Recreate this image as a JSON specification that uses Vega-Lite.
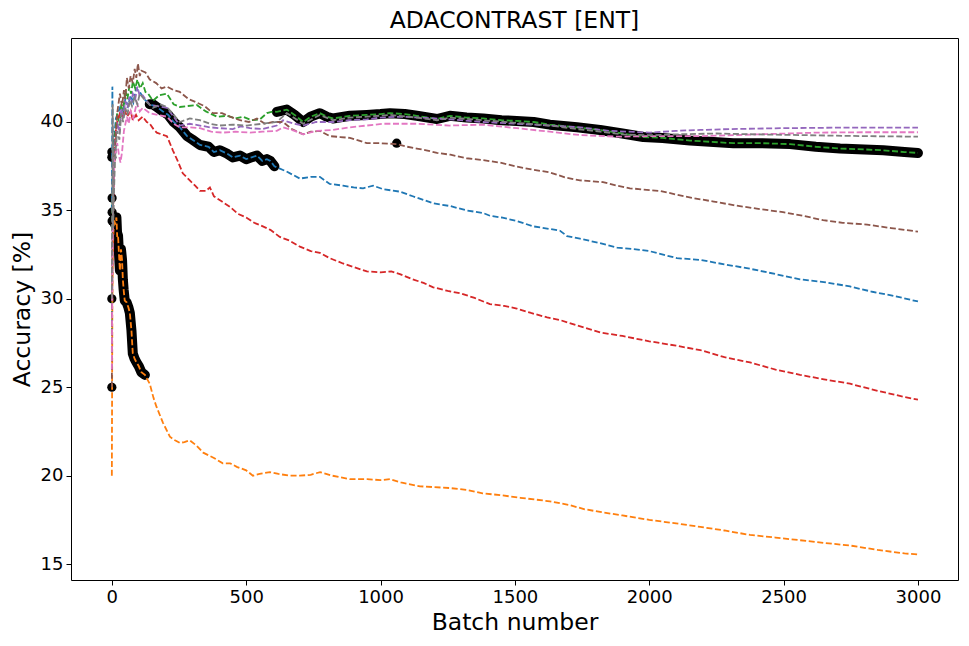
{
  "$schema": "https://vega.github.io/schema/vega-lite/v6.json",
  "autosize": {"type": "none"},
  "width": 887,
  "height": 542,
  "padding": {"left": 71, "top": 38, "right": 11, "bottom": 66},
  "background": "white",
  "title": {
    "text": "ADACONTRAST [ENT]",
    "font": "DejaVu Sans",
    "fontSize": 23.5,
    "fontWeight": "normal",
    "color": "black",
    "anchor": "middle",
    "offset": 6
  },
  "datasets": {
    "runs": [
      {"run":"C0","batch":0,"acc":35},{"run":"C0","batch":2,"acc":42},{"run":"C0","batch":4,"acc":38},{"run":"C0","batch":8,"acc":39},{"run":"C0","batch":15,"acc":40.2},{"run":"C0","batch":30,"acc":40.8},{"run":"C0","batch":40,"acc":40.3},{"run":"C0","batch":50,"acc":41.3},{"run":"C0","batch":60,"acc":40.9},{"run":"C0","batch":70,"acc":41.5},{"run":"C0","batch":80,"acc":41.1},{"run":"C0","batch":90,"acc":41.9},{"run":"C0","batch":104,"acc":41.7},{"run":"C0","batch":120,"acc":41.3},{"run":"C0","batch":141,"acc":41.0},{"run":"C0","batch":167,"acc":40.85},{"run":"C0","batch":190,"acc":40.6},{"run":"C0","batch":210,"acc":40.4},{"run":"C0","batch":230,"acc":40.0},{"run":"C0","batch":253,"acc":39.7},{"run":"C0","batch":280,"acc":39.2},{"run":"C0","batch":300,"acc":39.0},{"run":"C0","batch":328,"acc":38.7},{"run":"C0","batch":360,"acc":38.6},{"run":"C0","batch":380,"acc":38.3},{"run":"C0","batch":402,"acc":38.4},{"run":"C0","batch":430,"acc":38.2},{"run":"C0","batch":450,"acc":38.0},{"run":"C0","batch":477,"acc":38.1},{"run":"C0","batch":500,"acc":37.9},{"run":"C0","batch":520,"acc":38.0},{"run":"C0","batch":540,"acc":38.1},{"run":"C0","batch":560,"acc":37.8},{"run":"C0","batch":577,"acc":37.9},{"run":"C0","batch":590,"acc":37.8},{"run":"C0","batch":605,"acc":37.5},{"run":"C0","batch":650,"acc":37.2},{"run":"C0","batch":700,"acc":36.8},{"run":"C0","batch":740,"acc":36.9},{"run":"C0","batch":774,"acc":36.9},{"run":"C0","batch":811,"acc":36.5},{"run":"C0","batch":860,"acc":36.4},{"run":"C0","batch":900,"acc":36.3},{"run":"C0","batch":935,"acc":36.25},{"run":"C0","batch":972,"acc":36.4},{"run":"C0","batch":1010,"acc":36.2},{"run":"C0","batch":1072,"acc":36.06},{"run":"C0","batch":1120,"acc":35.8},{"run":"C0","batch":1159,"acc":35.6},{"run":"C0","batch":1196,"acc":35.4},{"run":"C0","batch":1258,"acc":35.25},{"run":"C0","batch":1320,"acc":35.0},{"run":"C0","batch":1382,"acc":34.85},{"run":"C0","batch":1407,"acc":34.7},{"run":"C0","batch":1450,"acc":34.6},{"run":"C0","batch":1507,"acc":34.4},{"run":"C0","batch":1568,"acc":34.1},{"run":"C0","batch":1630,"acc":33.95},{"run":"C0","batch":1668,"acc":33.85},{"run":"C0","batch":1694,"acc":33.55},{"run":"C0","batch":1742,"acc":33.4},{"run":"C0","batch":1817,"acc":33.15},{"run":"C0","batch":1880,"acc":32.9},{"run":"C0","batch":1950,"acc":32.8},{"run":"C0","batch":2000,"acc":32.7},{"run":"C0","batch":2103,"acc":32.3},{"run":"C0","batch":2190,"acc":32.2},{"run":"C0","batch":2280,"acc":31.95},{"run":"C0","batch":2375,"acc":31.7},{"run":"C0","batch":2470,"acc":31.4},{"run":"C0","batch":2561,"acc":31.1},{"run":"C0","batch":2650,"acc":30.95},{"run":"C0","batch":2747,"acc":30.7},{"run":"C0","batch":2830,"acc":30.4},{"run":"C0","batch":2900,"acc":30.2},{"run":"C0","batch":3000,"acc":29.85},

      {"run":"C1","batch":0,"acc":20},{"run":"C1","batch":1,"acc":25},{"run":"C1","batch":2,"acc":30},{"run":"C1","batch":4,"acc":33},{"run":"C1","batch":8,"acc":34.5},{"run":"C1","batch":12,"acc":34.2},{"run":"C1","batch":17,"acc":34.6},{"run":"C1","batch":20,"acc":33.5},{"run":"C1","batch":23,"acc":33.6},{"run":"C1","batch":26,"acc":32.7},{"run":"C1","batch":30,"acc":31.6},{"run":"C1","batch":34,"acc":32.8},{"run":"C1","batch":38,"acc":32.2},{"run":"C1","batch":41,"acc":31.1},{"run":"C1","batch":44,"acc":30.5},{"run":"C1","batch":48,"acc":29.9},{"run":"C1","batch":55,"acc":29.8},{"run":"C1","batch":62,"acc":29.5},{"run":"C1","batch":67,"acc":29.2},{"run":"C1","batch":73,"acc":28.2},{"run":"C1","batch":78,"acc":26.9},{"run":"C1","batch":85,"acc":26.6},{"run":"C1","batch":92,"acc":26.4},{"run":"C1","batch":100,"acc":26.2},{"run":"C1","batch":110,"acc":25.85},{"run":"C1","batch":123,"acc":25.7},{"run":"C1","batch":141,"acc":25.2},{"run":"C1","batch":155,"acc":24.4},{"run":"C1","batch":166,"acc":23.9},{"run":"C1","batch":190,"acc":23.0},{"run":"C1","batch":216,"acc":22.2},{"run":"C1","batch":235,"acc":22.0},{"run":"C1","batch":253,"acc":21.85},{"run":"C1","batch":270,"acc":21.9},{"run":"C1","batch":290,"acc":22.0},{"run":"C1","batch":315,"acc":21.7},{"run":"C1","batch":340,"acc":21.3},{"run":"C1","batch":380,"acc":21.0},{"run":"C1","batch":413,"acc":20.7},{"run":"C1","batch":440,"acc":20.7},{"run":"C1","batch":465,"acc":20.5},{"run":"C1","batch":500,"acc":20.3},{"run":"C1","batch":525,"acc":20.0},{"run":"C1","batch":550,"acc":20.1},{"run":"C1","batch":588,"acc":20.2},{"run":"C1","batch":620,"acc":20.1},{"run":"C1","batch":660,"acc":20.0},{"run":"C1","batch":700,"acc":20.0},{"run":"C1","batch":740,"acc":20.05},{"run":"C1","batch":775,"acc":20.2},{"run":"C1","batch":820,"acc":20.0},{"run":"C1","batch":886,"acc":19.8},{"run":"C1","batch":950,"acc":19.8},{"run":"C1","batch":1000,"acc":19.75},{"run":"C1","batch":1035,"acc":19.8},{"run":"C1","batch":1080,"acc":19.6},{"run":"C1","batch":1147,"acc":19.4},{"run":"C1","batch":1200,"acc":19.35},{"run":"C1","batch":1258,"acc":19.3},{"run":"C1","batch":1320,"acc":19.2},{"run":"C1","batch":1380,"acc":19.0},{"run":"C1","batch":1445,"acc":18.9},{"run":"C1","batch":1520,"acc":18.75},{"run":"C1","batch":1630,"acc":18.55},{"run":"C1","batch":1700,"acc":18.35},{"run":"C1","batch":1760,"acc":18.1},{"run":"C1","batch":1817,"acc":17.95},{"run":"C1","batch":1900,"acc":17.75},{"run":"C1","batch":2000,"acc":17.5},{"run":"C1","batch":2100,"acc":17.3},{"run":"C1","batch":2190,"acc":17.1},{"run":"C1","batch":2280,"acc":16.9},{"run":"C1","batch":2375,"acc":16.65},{"run":"C1","batch":2470,"acc":16.5},{"run":"C1","batch":2561,"acc":16.35},{"run":"C1","batch":2650,"acc":16.2},{"run":"C1","batch":2747,"acc":16.05},{"run":"C1","batch":2850,"acc":15.8},{"run":"C1","batch":2950,"acc":15.6},{"run":"C1","batch":3000,"acc":15.55},

      {"run":"C2","batch":0,"acc":28},{"run":"C2","batch":2,"acc":35},{"run":"C2","batch":5,"acc":37},{"run":"C2","batch":10,"acc":39},{"run":"C2","batch":20,"acc":40.5},{"run":"C2","batch":28,"acc":39.8},{"run":"C2","batch":35,"acc":41.0},{"run":"C2","batch":42,"acc":40.6},{"run":"C2","batch":50,"acc":41.8},{"run":"C2","batch":58,"acc":41.3},{"run":"C2","batch":65,"acc":42.0},{"run":"C2","batch":72,"acc":41.6},{"run":"C2","batch":78,"acc":42.3},{"run":"C2","batch":87,"acc":41.9},{"run":"C2","batch":95,"acc":42.4},{"run":"C2","batch":105,"acc":41.9},{"run":"C2","batch":115,"acc":42.2},{"run":"C2","batch":125,"acc":41.7},{"run":"C2","batch":135,"acc":41.6},{"run":"C2","batch":153,"acc":41.2},{"run":"C2","batch":175,"acc":41.5},{"run":"C2","batch":205,"acc":41.6},{"run":"C2","batch":230,"acc":41.0},{"run":"C2","batch":253,"acc":40.85},{"run":"C2","batch":280,"acc":40.9},{"run":"C2","batch":316,"acc":40.96},{"run":"C2","batch":350,"acc":40.6},{"run":"C2","batch":391,"acc":40.3},{"run":"C2","batch":430,"acc":40.35},{"run":"C2","batch":460,"acc":40.2},{"run":"C2","batch":488,"acc":40.3},{"run":"C2","batch":520,"acc":40.1},{"run":"C2","batch":551,"acc":40.15},{"run":"C2","batch":577,"acc":40.5},{"run":"C2","batch":600,"acc":40.6},{"run":"C2","batch":614,"acc":40.57},{"run":"C2","batch":651,"acc":40.7},{"run":"C2","batch":680,"acc":40.4},{"run":"C2","batch":712,"acc":40.0},{"run":"C2","batch":740,"acc":40.3},{"run":"C2","batch":774,"acc":40.5},{"run":"C2","batch":800,"acc":40.3},{"run":"C2","batch":823,"acc":40.2},{"run":"C2","batch":886,"acc":40.35},{"run":"C2","batch":949,"acc":40.4},{"run":"C2","batch":1000,"acc":40.45},{"run":"C2","batch":1035,"acc":40.5},{"run":"C2","batch":1090,"acc":40.45},{"run":"C2","batch":1135,"acc":40.35},{"run":"C2","batch":1210,"acc":40.17},{"run":"C2","batch":1258,"acc":40.35},{"run":"C2","batch":1320,"acc":40.25},{"run":"C2","batch":1382,"acc":40.2},{"run":"C2","batch":1450,"acc":40.1},{"run":"C2","batch":1507,"acc":40.06},{"run":"C2","batch":1570,"acc":40.0},{"run":"C2","batch":1630,"acc":39.85},{"run":"C2","batch":1731,"acc":39.7},{"run":"C2","batch":1817,"acc":39.55},{"run":"C2","batch":1900,"acc":39.35},{"run":"C2","batch":1978,"acc":39.15},{"run":"C2","batch":2050,"acc":39.1},{"run":"C2","batch":2152,"acc":38.95},{"run":"C2","batch":2313,"acc":38.8},{"run":"C2","batch":2420,"acc":38.8},{"run":"C2","batch":2524,"acc":38.75},{"run":"C2","batch":2620,"acc":38.6},{"run":"C2","batch":2710,"acc":38.5},{"run":"C2","batch":2800,"acc":38.45},{"run":"C2","batch":2871,"acc":38.4},{"run":"C2","batch":2950,"acc":38.3},{"run":"C2","batch":3000,"acc":38.25},

      {"run":"C3","batch":0,"acc":30},{"run":"C3","batch":3,"acc":33},{"run":"C3","batch":6,"acc":36},{"run":"C3","batch":10,"acc":38},{"run":"C3","batch":15,"acc":39.5},{"run":"C3","batch":20,"acc":40.0},{"run":"C3","batch":30,"acc":40.5},{"run":"C3","batch":40,"acc":40.3},{"run":"C3","batch":48,"acc":40.7},{"run":"C3","batch":56,"acc":40.3},{"run":"C3","batch":70,"acc":40.6},{"run":"C3","batch":78,"acc":40.1},{"run":"C3","batch":90,"acc":40.4},{"run":"C3","batch":100,"acc":40.1},{"run":"C3","batch":115,"acc":40.3},{"run":"C3","batch":130,"acc":40.0},{"run":"C3","batch":141,"acc":39.9},{"run":"C3","batch":155,"acc":39.6},{"run":"C3","batch":167,"acc":39.4},{"run":"C3","batch":185,"acc":39.3},{"run":"C3","batch":205,"acc":39.2},{"run":"C3","batch":227,"acc":38.4},{"run":"C3","batch":245,"acc":37.8},{"run":"C3","batch":264,"acc":37.1},{"run":"C3","batch":290,"acc":36.7},{"run":"C3","batch":310,"acc":36.4},{"run":"C3","batch":328,"acc":36.1},{"run":"C3","batch":350,"acc":36.1},{"run":"C3","batch":365,"acc":36.3},{"run":"C3","batch":380,"acc":35.8},{"run":"C3","batch":410,"acc":35.5},{"run":"C3","batch":440,"acc":35.2},{"run":"C3","batch":470,"acc":34.8},{"run":"C3","batch":500,"acc":34.6},{"run":"C3","batch":530,"acc":34.3},{"run":"C3","batch":562,"acc":34.1},{"run":"C3","batch":590,"acc":33.9},{"run":"C3","batch":625,"acc":33.5},{"run":"C3","batch":660,"acc":33.3},{"run":"C3","batch":700,"acc":32.95},{"run":"C3","batch":740,"acc":32.7},{"run":"C3","batch":774,"acc":32.6},{"run":"C3","batch":811,"acc":32.3},{"run":"C3","batch":860,"acc":32.0},{"run":"C3","batch":900,"acc":31.8},{"run":"C3","batch":949,"acc":31.55},{"run":"C3","batch":1000,"acc":31.5},{"run":"C3","batch":1040,"acc":31.55},{"run":"C3","batch":1072,"acc":31.4},{"run":"C3","batch":1120,"acc":31.1},{"run":"C3","batch":1160,"acc":30.9},{"run":"C3","batch":1196,"acc":30.65},{"run":"C3","batch":1250,"acc":30.45},{"run":"C3","batch":1300,"acc":30.3},{"run":"C3","batch":1350,"acc":30.05},{"run":"C3","batch":1407,"acc":29.7},{"run":"C3","batch":1460,"acc":29.6},{"run":"C3","batch":1507,"acc":29.45},{"run":"C3","batch":1560,"acc":29.2},{"run":"C3","batch":1620,"acc":28.95},{"run":"C3","batch":1668,"acc":28.8},{"run":"C3","batch":1730,"acc":28.5},{"run":"C3","batch":1817,"acc":28.1},{"run":"C3","batch":1900,"acc":27.9},{"run":"C3","batch":2000,"acc":27.6},{"run":"C3","batch":2100,"acc":27.35},{"run":"C3","batch":2190,"acc":27.1},{"run":"C3","batch":2280,"acc":26.7},{"run":"C3","batch":2375,"acc":26.4},{"run":"C3","batch":2470,"acc":26.0},{"run":"C3","batch":2561,"acc":25.7},{"run":"C3","batch":2650,"acc":25.45},{"run":"C3","batch":2747,"acc":25.2},{"run":"C3","batch":2850,"acc":24.8},{"run":"C3","batch":2950,"acc":24.45},{"run":"C3","batch":3000,"acc":24.3},

      {"run":"C4","batch":0,"acc":27},{"run":"C4","batch":2,"acc":33},{"run":"C4","batch":5,"acc":36},{"run":"C4","batch":10,"acc":38.5},{"run":"C4","batch":20,"acc":40.0},{"run":"C4","batch":28,"acc":39.4},{"run":"C4","batch":35,"acc":40.8},{"run":"C4","batch":42,"acc":40.2},{"run":"C4","batch":50,"acc":41.2},{"run":"C4","batch":58,"acc":40.8},{"run":"C4","batch":65,"acc":41.4},{"run":"C4","batch":72,"acc":41.0},{"run":"C4","batch":78,"acc":41.6},{"run":"C4","batch":87,"acc":41.3},{"run":"C4","batch":95,"acc":42.0},{"run":"C4","batch":105,"acc":41.4},{"run":"C4","batch":115,"acc":41.5},{"run":"C4","batch":141,"acc":40.96},{"run":"C4","batch":170,"acc":40.9},{"run":"C4","batch":205,"acc":40.8},{"run":"C4","batch":230,"acc":40.3},{"run":"C4","batch":253,"acc":39.8},{"run":"C4","batch":290,"acc":39.9},{"run":"C4","batch":328,"acc":39.8},{"run":"C4","batch":365,"acc":39.7},{"run":"C4","batch":402,"acc":39.65},{"run":"C4","batch":450,"acc":39.6},{"run":"C4","batch":480,"acc":39.75},{"run":"C4","batch":514,"acc":39.65},{"run":"C4","batch":560,"acc":39.6},{"run":"C4","batch":614,"acc":39.8},{"run":"C4","batch":637,"acc":40.1},{"run":"C4","batch":680,"acc":39.9},{"run":"C4","batch":712,"acc":39.8},{"run":"C4","batch":760,"acc":40.0},{"run":"C4","batch":823,"acc":40.0},{"run":"C4","batch":880,"acc":40.1},{"run":"C4","batch":949,"acc":40.15},{"run":"C4","batch":1000,"acc":40.25},{"run":"C4","batch":1072,"acc":40.3},{"run":"C4","batch":1150,"acc":40.25},{"run":"C4","batch":1258,"acc":40.15},{"run":"C4","batch":1380,"acc":40.0},{"run":"C4","batch":1507,"acc":39.9},{"run":"C4","batch":1630,"acc":39.8},{"run":"C4","batch":1742,"acc":39.7},{"run":"C4","batch":1850,"acc":39.5},{"run":"C4","batch":2003,"acc":39.4},{"run":"C4","batch":2100,"acc":39.5},{"run":"C4","batch":2190,"acc":39.55},{"run":"C4","batch":2300,"acc":39.6},{"run":"C4","batch":2498,"acc":39.65},{"run":"C4","batch":2700,"acc":39.68},{"run":"C4","batch":2850,"acc":39.68},{"run":"C4","batch":3000,"acc":39.68},

      {"run":"C5","batch":0,"acc":25},{"run":"C5","batch":2,"acc":33},{"run":"C5","batch":5,"acc":36},{"run":"C5","batch":10,"acc":38},{"run":"C5","batch":20,"acc":40.5},{"run":"C5","batch":30,"acc":41.6},{"run":"C5","batch":38,"acc":40.9},{"run":"C5","batch":45,"acc":41.8},{"run":"C5","batch":50,"acc":41.3},{"run":"C5","batch":56,"acc":42.5},{"run":"C5","batch":63,"acc":41.9},{"run":"C5","batch":70,"acc":42.6},{"run":"C5","batch":78,"acc":42.2},{"run":"C5","batch":85,"acc":43.0},{"run":"C5","batch":91,"acc":42.5},{"run":"C5","batch":97,"acc":43.3},{"run":"C5","batch":104,"acc":42.6},{"run":"C5","batch":110,"acc":42.9},{"run":"C5","batch":125,"acc":42.8},{"run":"C5","batch":141,"acc":42.4},{"run":"C5","batch":165,"acc":42.2},{"run":"C5","batch":185,"acc":41.9},{"run":"C5","batch":205,"acc":42.0},{"run":"C5","batch":230,"acc":41.8},{"run":"C5","batch":253,"acc":41.7},{"run":"C5","batch":285,"acc":41.3},{"run":"C5","batch":316,"acc":41.1},{"run":"C5","batch":345,"acc":40.9},{"run":"C5","batch":376,"acc":40.5},{"run":"C5","batch":410,"acc":40.5},{"run":"C5","batch":440,"acc":40.3},{"run":"C5","batch":477,"acc":40.1},{"run":"C5","batch":510,"acc":40.0},{"run":"C5","batch":540,"acc":40.2},{"run":"C5","batch":570,"acc":39.9},{"run":"C5","batch":600,"acc":40.0},{"run":"C5","batch":637,"acc":40.0},{"run":"C5","batch":670,"acc":39.6},{"run":"C5","batch":712,"acc":39.3},{"run":"C5","batch":740,"acc":39.45},{"run":"C5","batch":774,"acc":39.5},{"run":"C5","batch":811,"acc":39.2},{"run":"C5","batch":850,"acc":39.15},{"run":"C5","batch":886,"acc":39.1},{"run":"C5","batch":920,"acc":38.95},{"run":"C5","batch":949,"acc":38.8},{"run":"C5","batch":1000,"acc":38.8},{"run":"C5","batch":1060,"acc":38.75},{"run":"C5","batch":1100,"acc":38.6},{"run":"C5","batch":1135,"acc":38.5},{"run":"C5","batch":1170,"acc":38.4},{"run":"C5","batch":1210,"acc":38.25},{"run":"C5","batch":1260,"acc":38.15},{"run":"C5","batch":1320,"acc":37.95},{"run":"C5","batch":1380,"acc":37.85},{"run":"C5","batch":1445,"acc":37.7},{"run":"C5","batch":1500,"acc":37.5},{"run":"C5","batch":1568,"acc":37.3},{"run":"C5","batch":1630,"acc":37.15},{"run":"C5","batch":1690,"acc":36.85},{"run":"C5","batch":1742,"acc":36.7},{"run":"C5","batch":1828,"acc":36.6},{"run":"C5","batch":1880,"acc":36.4},{"run":"C5","batch":1928,"acc":36.25},{"run":"C5","batch":2040,"acc":36.1},{"run":"C5","batch":2100,"acc":35.9},{"run":"C5","batch":2163,"acc":35.7},{"run":"C5","batch":2240,"acc":35.5},{"run":"C5","batch":2313,"acc":35.3},{"run":"C5","batch":2400,"acc":35.1},{"run":"C5","batch":2498,"acc":34.9},{"run":"C5","batch":2570,"acc":34.7},{"run":"C5","batch":2647,"acc":34.45},{"run":"C5","batch":2720,"acc":34.3},{"run":"C5","batch":2811,"acc":34.2},{"run":"C5","batch":2900,"acc":34.0},{"run":"C5","batch":3000,"acc":33.8},

      {"run":"C6","batch":0,"acc":26},{"run":"C6","batch":2,"acc":32},{"run":"C6","batch":5,"acc":36},{"run":"C6","batch":10,"acc":38},{"run":"C6","batch":20,"acc":38.8},{"run":"C6","batch":28,"acc":38.0},{"run":"C6","batch":32,"acc":37.7},{"run":"C6","batch":38,"acc":38.3},{"run":"C6","batch":45,"acc":39.5},{"run":"C6","batch":56,"acc":40.3},{"run":"C6","batch":63,"acc":39.9},{"run":"C6","batch":70,"acc":40.6},{"run":"C6","batch":80,"acc":40.2},{"run":"C6","batch":93,"acc":41.1},{"run":"C6","batch":104,"acc":40.6},{"run":"C6","batch":115,"acc":40.8},{"run":"C6","batch":141,"acc":40.5},{"run":"C6","batch":170,"acc":40.4},{"run":"C6","batch":205,"acc":40.3},{"run":"C6","batch":230,"acc":39.9},{"run":"C6","batch":253,"acc":39.7},{"run":"C6","batch":290,"acc":39.7},{"run":"C6","batch":328,"acc":39.65},{"run":"C6","batch":370,"acc":39.45},{"run":"C6","batch":413,"acc":39.4},{"run":"C6","batch":460,"acc":39.45},{"run":"C6","batch":514,"acc":39.4},{"run":"C6","batch":560,"acc":39.45},{"run":"C6","batch":614,"acc":39.5},{"run":"C6","batch":637,"acc":39.7},{"run":"C6","batch":680,"acc":39.5},{"run":"C6","batch":712,"acc":39.3},{"run":"C6","batch":762,"acc":39.5},{"run":"C6","batch":820,"acc":39.55},{"run":"C6","batch":886,"acc":39.7},{"run":"C6","batch":949,"acc":39.8},{"run":"C6","batch":1010,"acc":39.9},{"run":"C6","batch":1135,"acc":39.9},{"run":"C6","batch":1258,"acc":39.8},{"run":"C6","batch":1382,"acc":39.85},{"run":"C6","batch":1507,"acc":39.65},{"run":"C6","batch":1630,"acc":39.45},{"run":"C6","batch":1742,"acc":39.26},{"run":"C6","batch":1880,"acc":39.17},{"run":"C6","batch":2000,"acc":39.2},{"run":"C6","batch":2190,"acc":39.2},{"run":"C6","batch":2400,"acc":39.3},{"run":"C6","batch":2625,"acc":39.4},{"run":"C6","batch":2800,"acc":39.42},{"run":"C6","batch":3000,"acc":39.42},

      {"run":"C7","batch":0,"acc":30},{"run":"C7","batch":3,"acc":41.0},{"run":"C7","batch":5,"acc":34},{"run":"C7","batch":8,"acc":36},{"run":"C7","batch":12,"acc":38},{"run":"C7","batch":20,"acc":39.5},{"run":"C7","batch":28,"acc":39.0},{"run":"C7","batch":35,"acc":40.5},{"run":"C7","batch":42,"acc":40.0},{"run":"C7","batch":50,"acc":40.8},{"run":"C7","batch":58,"acc":40.4},{"run":"C7","batch":67,"acc":41.25},{"run":"C7","batch":75,"acc":40.9},{"run":"C7","batch":85,"acc":41.4},{"run":"C7","batch":95,"acc":41.0},{"run":"C7","batch":104,"acc":41.6},{"run":"C7","batch":125,"acc":41.2},{"run":"C7","batch":153,"acc":40.8},{"run":"C7","batch":180,"acc":41.0},{"run":"C7","batch":205,"acc":40.85},{"run":"C7","batch":230,"acc":40.4},{"run":"C7","batch":253,"acc":40.0},{"run":"C7","batch":290,"acc":40.2},{"run":"C7","batch":328,"acc":40.1},{"run":"C7","batch":365,"acc":39.9},{"run":"C7","batch":402,"acc":39.8},{"run":"C7","batch":450,"acc":39.85},{"run":"C7","batch":502,"acc":39.8},{"run":"C7","batch":560,"acc":39.9},{"run":"C7","batch":614,"acc":40.0},{"run":"C7","batch":651,"acc":40.5},{"run":"C7","batch":712,"acc":39.9},{"run":"C7","batch":774,"acc":40.4},{"run":"C7","batch":823,"acc":40.1},{"run":"C7","batch":886,"acc":40.25},{"run":"C7","batch":949,"acc":40.3},{"run":"C7","batch":1035,"acc":40.4},{"run":"C7","batch":1135,"acc":40.25},{"run":"C7","batch":1210,"acc":40.1},{"run":"C7","batch":1258,"acc":40.25},{"run":"C7","batch":1382,"acc":40.1},{"run":"C7","batch":1507,"acc":39.95},{"run":"C7","batch":1630,"acc":39.8},{"run":"C7","batch":1731,"acc":39.6},{"run":"C7","batch":1817,"acc":39.45},{"run":"C7","batch":1900,"acc":39.3},{"run":"C7","batch":2000,"acc":39.25},{"run":"C7","batch":2100,"acc":39.3},{"run":"C7","batch":2252,"acc":39.35},{"run":"C7","batch":2400,"acc":39.3},{"run":"C7","batch":2600,"acc":39.25},{"run":"C7","batch":2800,"acc":39.2},{"run":"C7","batch":3000,"acc":39.17}
    ],
    "trail": [
      {"seg":"a","batch":8,"acc":34.5},{"seg":"a","batch":12,"acc":34.2},{"seg":"a","batch":17,"acc":34.6},{"seg":"a","batch":20,"acc":33.5},{"seg":"a","batch":23,"acc":33.6},{"seg":"a","batch":26,"acc":32.7},{"seg":"a","batch":30,"acc":31.6},{"seg":"a","batch":34,"acc":32.8},{"seg":"a","batch":38,"acc":32.2},{"seg":"a","batch":41,"acc":31.1},{"seg":"a","batch":44,"acc":30.5},{"seg":"a","batch":48,"acc":29.9},{"seg":"a","batch":55,"acc":29.8},{"seg":"a","batch":62,"acc":29.5},{"seg":"a","batch":67,"acc":29.2},{"seg":"a","batch":73,"acc":28.2},{"seg":"a","batch":78,"acc":26.9},{"seg":"a","batch":85,"acc":26.6},{"seg":"a","batch":92,"acc":26.4},{"seg":"a","batch":100,"acc":26.2},{"seg":"a","batch":110,"acc":25.85},{"seg":"a","batch":123,"acc":25.7},
      {"seg":"b","batch":141,"acc":41.0},{"seg":"b","batch":153,"acc":41.0},{"seg":"b","batch":167,"acc":40.85},{"seg":"b","batch":190,"acc":40.6},{"seg":"b","batch":210,"acc":40.4},{"seg":"b","batch":230,"acc":40.0},{"seg":"b","batch":253,"acc":39.7},{"seg":"b","batch":280,"acc":39.2},{"seg":"b","batch":300,"acc":39.0},{"seg":"b","batch":328,"acc":38.7},{"seg":"b","batch":360,"acc":38.6},{"seg":"b","batch":380,"acc":38.3},{"seg":"b","batch":402,"acc":38.4},{"seg":"b","batch":430,"acc":38.2},{"seg":"b","batch":450,"acc":38.0},{"seg":"b","batch":477,"acc":38.1},{"seg":"b","batch":500,"acc":37.9},{"seg":"b","batch":520,"acc":38.0},{"seg":"b","batch":540,"acc":38.1},{"seg":"b","batch":560,"acc":37.8},{"seg":"b","batch":577,"acc":37.9},{"seg":"b","batch":590,"acc":37.8},{"seg":"b","batch":605,"acc":37.5},
      {"seg":"c","batch":614,"acc":40.57},{"seg":"c","batch":651,"acc":40.7},{"seg":"c","batch":680,"acc":40.4},{"seg":"c","batch":712,"acc":40.0},{"seg":"c","batch":740,"acc":40.3},{"seg":"c","batch":774,"acc":40.5},{"seg":"c","batch":800,"acc":40.3},{"seg":"c","batch":823,"acc":40.2},{"seg":"c","batch":886,"acc":40.35},{"seg":"c","batch":949,"acc":40.4},{"seg":"c","batch":1000,"acc":40.45},{"seg":"c","batch":1035,"acc":40.5},{"seg":"c","batch":1090,"acc":40.45},{"seg":"c","batch":1135,"acc":40.35},{"seg":"c","batch":1210,"acc":40.17},{"seg":"c","batch":1258,"acc":40.35},{"seg":"c","batch":1320,"acc":40.25},{"seg":"c","batch":1382,"acc":40.2},{"seg":"c","batch":1450,"acc":40.1},{"seg":"c","batch":1507,"acc":40.06},{"seg":"c","batch":1570,"acc":40.0},{"seg":"c","batch":1630,"acc":39.85},{"seg":"c","batch":1731,"acc":39.7},{"seg":"c","batch":1817,"acc":39.55},{"seg":"c","batch":1900,"acc":39.35},{"seg":"c","batch":1978,"acc":39.15},{"seg":"c","batch":2050,"acc":39.1},{"seg":"c","batch":2152,"acc":38.95},{"seg":"c","batch":2313,"acc":38.8},{"seg":"c","batch":2420,"acc":38.8},{"seg":"c","batch":2524,"acc":38.75},{"seg":"c","batch":2620,"acc":38.6},{"seg":"c","batch":2710,"acc":38.5},{"seg":"c","batch":2800,"acc":38.45},{"seg":"c","batch":2871,"acc":38.4},{"seg":"c","batch":2950,"acc":38.3},{"seg":"c","batch":3000,"acc":38.25}
    ],
    "dots": [
      {"batch":0,"acc":38.3},{"batch":0,"acc":38.0},{"batch":1,"acc":35.7},{"batch":1,"acc":34.9},{"batch":1,"acc":34.4},{"batch":0,"acc":30.0},{"batch":0,"acc":25.0},{"batch":1060,"acc":38.8}
    ]
  },
  "encoding": {
    "x": {
      "field": "batch",
      "type": "quantitative",
      "title": "Batch number",
      "scale": {"domain": [-152, 3149], "nice": false, "zero": false},
      "axis": {"values": [0, 500, 1000, 1500, 2000, 2500, 3000], "format": "d", "titlePadding": 4}
    },
    "y": {
      "field": "acc",
      "type": "quantitative",
      "title": "Accuracy [%]",
      "scale": {"domain": [14.1, 44.75], "nice": false, "zero": false},
      "axis": {"values": [15, 20, 25, 30, 35, 40], "format": "d", "titlePadding": 6}
    }
  },
  "layer": [
    {
      "data": {"name": "trail"},
      "mark": {"type": "line", "color": "black", "strokeWidth": 10, "strokeCap": "round", "strokeJoin": "round"},
      "encoding": {"detail": {"field": "seg"}}
    },
    {
      "data": {"name": "dots"},
      "mark": {"type": "circle", "color": "black", "opacity": 1, "size": 85}
    },
    {
      "data": {"name": "runs"},
      "mark": {"type": "line", "strokeWidth": 1.8, "strokeDash": [6, 2.6]},
      "encoding": {
        "color": {
          "field": "run",
          "type": "nominal",
          "legend": null,
          "scale": {
            "domain": ["C0", "C1", "C2", "C3", "C4", "C5", "C6", "C7"],
            "range": ["#1f77b4", "#ff7f0e", "#2ca02c", "#d62728", "#9467bd", "#8c564b", "#e377c2", "#7f7f7f"]
          }
        }
      }
    }
  ],
  "config": {
    "view": {"stroke": "black", "strokeWidth": 1},
    "axis": {
      "grid": false,
      "domain": false,
      "ticks": true,
      "tickColor": "black",
      "tickSize": 5,
      "labelFont": "DejaVu Sans",
      "labelFontSize": 18,
      "labelColor": "black",
      "labelPadding": 3,
      "titleFont": "DejaVu Sans",
      "titleFontSize": 23.5,
      "titleFontWeight": "normal",
      "titleColor": "black"
    }
  }
}
